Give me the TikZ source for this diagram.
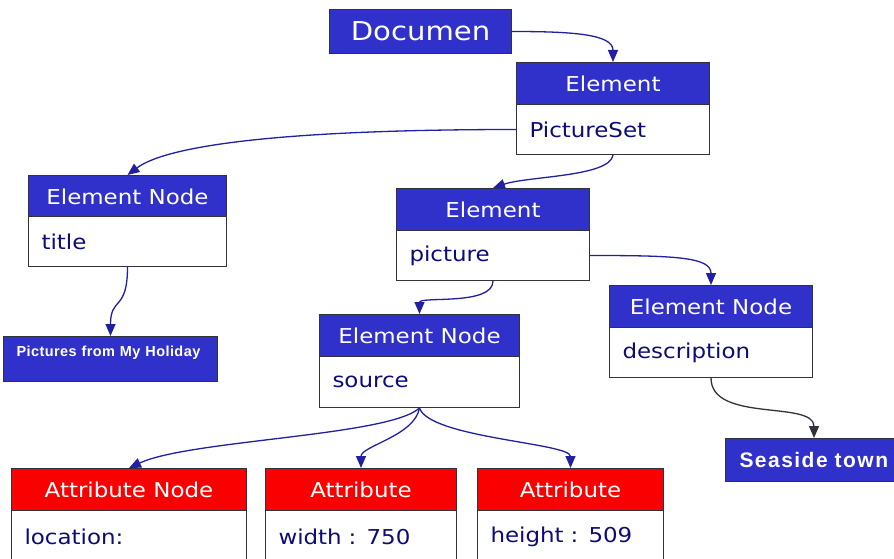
\documentclass[tikz,border=0pt]{standalone}
\usepackage{fontspec}
\usetikzlibrary{arrows.meta}
\newfontfamily\vfont[FakeStretch=1.12]{DejaVu Sans}
\newfontfamily\bfont[LetterSpace=3]{Liberation Sans}
\newfontfamily\sfont[LetterSpace=7]{Liberation Sans}
\definecolor{hblue}{RGB}{48,48,202}
\definecolor{hred}{RGB}{250,0,0}
\definecolor{navy}{RGB}{12,12,120}
\definecolor{arr}{RGB}{32,32,160}
\definecolor{edge}{RGB}{50,50,60}
\tikzset{
  box/.style={draw=edge, line width=1pt, inner sep=0pt, anchor=north west},
  hdr/.style={box, fill=hblue, text=white, font=\vfont\fontsize{20.5}{24}\selectfont, minimum height=42pt},
  rhdr/.style={hdr, fill=hred},
  body/.style={box, fill=white, text=navy, font=\vfont\fontsize{20.5}{24}\selectfont, align=left, inner xsep=13pt},
  solid box/.style={box, fill=hblue, text=white, align=left, inner xsep=13pt},
  conn/.style={draw=arr, line width=1.3pt, -{Triangle[length=12pt,width=10pt]}},
}
\begin{document}
\begin{tikzpicture}[x=1pt,y=-1pt]
\useasboundingbox (0,0) rectangle (894,559);
% Document
\node[hdr, minimum width=182pt, minimum height=44pt, font=\vfont\fontsize{26}{30}\selectfont] (docH) at (329,9) {Documen};
% Element PictureSet
\node[hdr, minimum width=193pt] (elH) at (516,62) {Element};
\node[body, text width=167pt, minimum height=50pt] (elB) at (516,104) {PictureSet};
% Element Node title
\node[hdr, minimum width=198pt] (tH) at (28,175) {Element Node};
\node[body, text width=172pt, minimum height=50pt] (tB) at (28,216) {title};
% Pictures from My Holiday
\node[solid box, text width=188pt, text height=20pt, text depth=25pt, inner ysep=0pt, font=\bfont\bfseries\fontsize{14.5}{17}\selectfont] (picsN) at (3,336) {Pictures from My Holiday};
% Element picture
\node[hdr, minimum width=193pt] (picH) at (396,188) {Element};
\node[body, text width=167pt, minimum height=50pt] (picB) at (396,230) {picture};
% Element Node source
\node[hdr, minimum width=200pt] (srcH) at (319,314) {Element Node};
\node[body, text width=174pt, minimum height=51pt] (srcB) at (319,356) {source};
% Element Node description
\node[hdr, minimum width=203pt] (descH) at (609,285) {Element Node};
\node[body, text width=177pt, minimum height=50pt] (descB) at (609,327) {description};
% Seaside town
\node[solid box, text width=149pt, minimum height=43pt, inner xsep=14pt, font=\sfont\bfseries\fontsize{21}{24}\selectfont] (seaN) at (725,438) {Seaside town};
% Attributes
\node[rhdr, minimum width=235pt] (locH) at (11,468) {Attribute Node};
\node[body, text width=209pt, minimum height=52pt] (locB) at (11,510) {location:};
\node[rhdr, minimum width=191pt] (wH) at (265,468) {Attribute};
\node[body, text width=165pt, minimum height=52pt] (wB) at (265,510) {width : 750};
\node[rhdr, minimum width=186pt] (hH) at (477,468) {Attribute};
\node[body, text width=160pt, minimum height=52pt] (hB) at (477,510) {height : 509};
% Connectors
\draw[conn] (docH.east) .. controls +(60,0) and +(0,-28) .. (elH.north);
\draw[conn] (elB.west) .. controls +(-230,0) and +(40,-30) .. (tH.north);
\draw[conn] (elB.south) .. controls +(-3,22) and +(35,-12) .. (picH.north);
\draw[conn] (tB.south) .. controls +(0,45) and +(0,-40) .. (picsN.north);
\draw[conn] (picB.south) .. controls +(0,25) and +(0,-18) .. (srcH.north);
\draw[conn] (picB.east) .. controls +(85,0) and +(0,-28) .. (descH.north);
\draw[conn, draw=edge] (descB.south) .. controls +(0,45) and +(0,-38) .. (seaN.north);
\draw[conn] (srcB.south) .. controls +(-30,28) and +(60,-28) .. (locH.north);
\draw[conn] (srcB.south) .. controls +(-5,28) and +(0,-22) .. (wH.north);
\draw[conn] (srcB.south) .. controls +(10,30) and +(0,-25) .. (hH.north);
\end{tikzpicture}
\end{document}
